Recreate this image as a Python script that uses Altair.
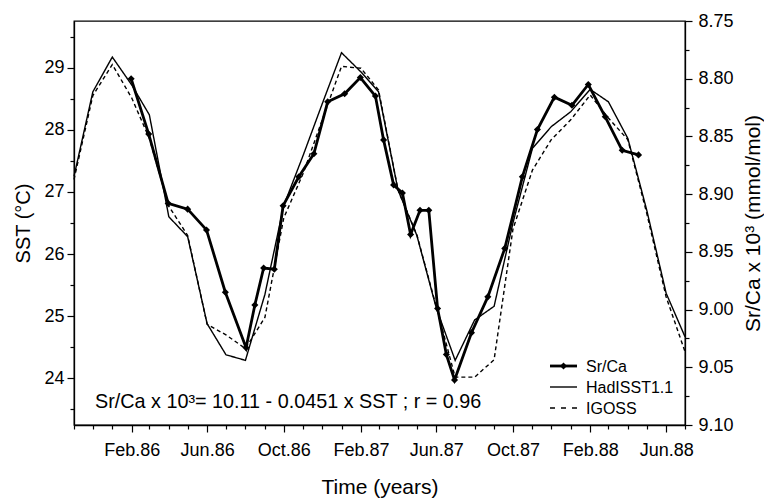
import altair as alt
import pandas as pd

# ---------------- data ----------------
months = [
    "1985-11-01", "1985-12-01",
    "1986-01-01", "1986-02-01", "1986-03-01", "1986-04-01", "1986-05-01", "1986-06-01",
    "1986-07-01", "1986-08-01", "1986-09-01", "1986-10-01", "1986-11-01", "1986-12-01",
    "1987-01-01", "1987-02-01", "1987-03-01", "1987-04-01", "1987-05-01", "1987-06-01",
    "1987-07-01", "1987-08-01", "1987-09-01", "1987-10-01", "1987-11-01", "1987-12-01",
    "1988-01-01", "1988-02-01", "1988-03-01", "1988-04-01", "1988-05-01", "1988-06-01",
    "1988-07-01",
]
hadisst = [27.25, 28.61, 29.17, 28.72, 28.24, 26.60, 26.28, 24.88, 24.38, 24.29,
           25.35, 26.78, 27.59, 28.41, 29.24, 28.93, 28.61, 27.03, 26.30, 25.13,
           24.29, 24.94, 25.16, 26.50, 27.70, 28.05, 28.29, 28.65, 28.45, 27.86,
           26.71, 25.37, 24.67]
igoss = [27.20, 28.55, 29.05, 28.51, 27.86, 26.77, 26.30, 24.87, 24.70, 24.48,
         24.98, 26.58, 27.30, 28.15, 29.02, 28.99, 28.64, 27.03, 26.31, 25.15,
         24.02, 24.02, 24.30, 26.40, 27.35, 27.84, 28.16, 28.56, 28.19, 27.84,
         26.66, 25.31, 24.43]

srca_dates = [
    "1986-01-31", "1986-02-28", "1986-03-31", "1986-05-01", "1986-05-31", "1986-06-30",
    "1986-08-02", "1986-08-16", "1986-08-30", "1986-09-16", "1986-09-30", "1986-10-25",
    "1986-11-18", "1986-12-10", "1987-01-06", "1987-01-31", "1987-02-24", "1987-03-09",
    "1987-03-25", "1987-04-08", "1987-04-21", "1987-05-06", "1987-05-20", "1987-06-03",
    "1987-06-17", "1987-06-30", "1987-07-27", "1987-08-22", "1987-09-18", "1987-10-16",
    "1987-11-09", "1987-12-06", "1988-01-03", "1988-01-29", "1988-02-25", "1988-03-23",
    "1988-04-18",
]
srca = [8.800, 8.848, 8.908, 8.913, 8.931, 8.985, 9.033, 8.996, 8.964, 8.965,
        8.910, 8.885, 8.865, 8.820, 8.813, 8.799, 8.815, 8.853, 8.892, 8.899,
        8.935, 8.914, 8.914, 8.999, 9.039, 9.061, 9.020, 8.989, 8.947, 8.885,
        8.844, 8.816, 8.823, 8.805, 8.833, 8.862, 8.866]

sst_ticks = [23.5, 24, 24.5, 25, 25.5, 26, 26.5, 27, 27.5, 28, 28.5, 29, 29.5]
srca_ticks = [8.75, 8.775, 8.80, 8.825, 8.85, 8.875, 8.90, 8.925, 8.95, 8.975,
              9.00, 9.025, 9.05, 9.075, 9.10]
legend_labels = ["Sr/Ca", "HadISST1.1", "IGOSS"]
equation = "Sr/Ca x 10³= 10.11 - 0.0451 x SST ; r = 0.96"

FONT = "Liberation Sans"
W, H = 611, 404


def dt(s):
    y, m, d = map(int, s.split("-"))
    return alt.DateTime(year=y, month=m, date=d, utc=True)


x_scale = alt.Scale(type="utc", domain=[dt("1985-11-01"), dt("1988-07-01")], nice=False)
x_axis = alt.Axis(
    values=[dt(s) for s in months],
    labelExpr="(utcmonth(datum.value) % 4 == 1) ? utcFormat(datum.value, '%b.%y') : ''",
    tickSize={"condition": {"test": "utcmonth(datum.value) % 4 == 1", "value": 7}, "value": 4},
    labelPadding=9, labelFlush=False, labelOverlap=False,
    title="Time (years)", titleFontSize=21, titlePadding=17,
)

left_scale = alt.Scale(domain=[23.25, 29.75], nice=False, zero=False)
left_axis = alt.Axis(
    values=sst_ticks,
    labelExpr="abs(datum.value - round(datum.value)) < 0.01 ? format(datum.value, 'd') : ''",
    tickSize={"condition": {"test": "abs(datum.value - round(datum.value)) < 0.01", "value": 7}, "value": 4},
    labelPadding=3, labelOverlap=False,
    title="SST (°C)", titleFontSize=20, titlePadding=10,
)

right_scale = alt.Scale(domain=[8.75, 9.10], reverse=True, nice=False, zero=False)
right_axis = alt.Axis(
    orient="right",
    values=srca_ticks,
    labelExpr="abs(datum.value * 20 - round(datum.value * 20)) < 0.01 ? format(datum.value, '.2f') : ''",
    tickSize={"condition": {"test": "abs(datum.value * 20 - round(datum.value * 20)) < 0.01", "value": 7}, "value": 4},
    labelPadding=6, labelOverlap=False,
    title="Sr/Ca x 10³ (mmol/mol)", titleFontSize=21, titlePadding=30, titleAngle=270,
)

sst_df = pd.DataFrame({"date": months, "hadisst": hadisst, "igoss": igoss})
sst = (
    alt.Chart(sst_df)
    .transform_fold(["hadisst", "igoss"], as_=["series", "sst"])
    .mark_line(color="black", strokeWidth=1.4)
    .encode(
        x=alt.X("date:T", scale=x_scale, axis=x_axis),
        y=alt.Y("sst:Q", scale=left_scale, axis=left_axis),
        strokeDash=alt.StrokeDash(
            "series:N",
            scale=alt.Scale(domain=["hadisst", "igoss"], range=[[1, 0], [4, 3]]),
            legend=None,
        ),
    )
)

sr_df = pd.DataFrame({"date": srca_dates, "srca": srca})
sr = (
    alt.Chart(sr_df)
    .mark_line(
        color="black", strokeWidth=2.8,
        point=alt.OverlayMarkDef(shape="diamond", size=50, filled=True, color="black"),
    )
    .encode(
        x=alt.X("date:T", scale=x_scale, axis=x_axis),
        y=alt.Y("srca:Q", scale=right_scale, axis=right_axis),
    )
)

one = pd.DataFrame({"a": [0]})
leg_x0, leg_x1, leg_tx = 476, 503, 512
rows_y = [345, 366, 387]
legend_layers = [
    alt.Chart(one).mark_rule(color="black", strokeWidth=2.8).encode(
        x=alt.value(leg_x0), x2=alt.value(leg_x1), y=alt.value(rows_y[0])),
    alt.Chart(one).mark_point(shape="diamond", size=50, filled=True, color="black", opacity=1).encode(
        x=alt.value((leg_x0 + leg_x1) / 2), y=alt.value(rows_y[0])),
    alt.Chart(one).mark_rule(color="black", strokeWidth=1.4).encode(
        x=alt.value(leg_x0), x2=alt.value(leg_x1), y=alt.value(rows_y[1])),
    alt.Chart(one).mark_rule(color="black", strokeWidth=1.4, strokeDash=[5, 6]).encode(
        x=alt.value(leg_x0), x2=alt.value(leg_x1), y=alt.value(rows_y[2])),
]
for lab, yy in zip(legend_labels, rows_y):
    legend_layers.append(
        alt.Chart(one).mark_text(align="left", baseline="middle", font=FONT, fontSize=16, color="black",
                                 text=lab, dy=1).encode(x=alt.value(leg_tx), y=alt.value(yy))
    )

eq = alt.Chart(one).mark_text(align="left", baseline="alphabetic", font=FONT, fontSize=19.8, color="black",
                              text=equation).encode(x=alt.value(21), y=alt.value(387))

chart = (
    alt.layer(sst, sr, *legend_layers, eq)
    .resolve_scale(y="independent")
    .properties(
        width=W, height=H,
        padding={"left": 74, "top": 21, "right": 79, "bottom": 77},
        autosize=alt.AutoSizeParams(type="none"),
        background="white",
    )
    .configure_view(stroke="black", strokeWidth=1.3)
    .configure_axis(
        grid=False, domainColor="black", domainWidth=1.3, tickColor="black", tickWidth=1.2,
        labelColor="black", titleColor="black", labelFont=FONT, titleFont=FONT,
        labelFontSize=18, titleFontWeight="normal",
    )
)

chart.save("out.html", embed_options={"renderer": "svg", "actions": False})
